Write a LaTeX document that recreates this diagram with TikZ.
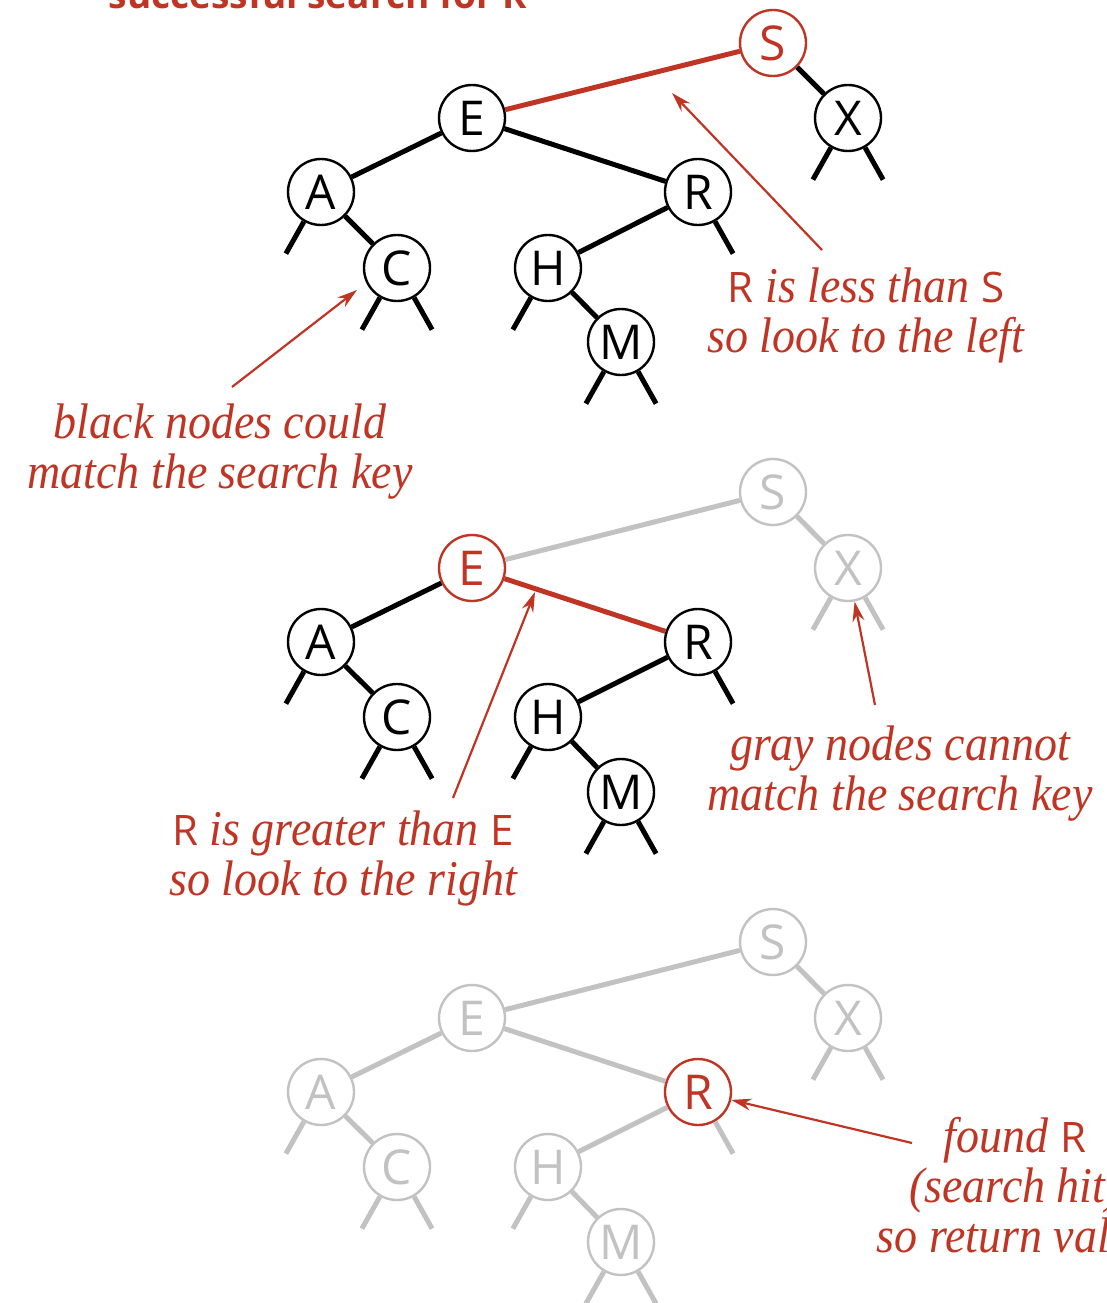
\documentclass[tikz,border=0pt]{standalone}
\usepackage{fontspec}
\setsansfont{Open Sans}
\newfontfamily\notefont[FakeStretch=0.92]{Liberation Serif}
\usepackage{tikz}
\usetikzlibrary{arrows.meta,calc}
\definecolor{bookred}{RGB}{192,52,36}
\definecolor{bookgray}{RGB}{194,194,194}
\newcommand{\ky}[1]{{\upshape\sffamily\fontsize{42}{50}\selectfont #1}}

\begin{document}
\begin{tikzpicture}[x=1pt,y=-1pt,>={Stealth[length=20pt,width=12pt]},
  key/.style={circle,draw,line width=2.4pt,fill=white,minimum size=66pt,inner sep=0pt,
    font=\sffamily\fontsize{48}{48}\selectfont},
  redkey/.style={key,draw=bookred,text=bookred},
  graykey/.style={key,draw=bookgray,text=bookgray},
  link/.style={line width=5pt},
  note/.style={bookred,align=center,font=\notefont\itshape\fontsize{50}{50}\selectfont},
  pointer/.style={->,line width=2.2pt,bookred}]
  \useasboundingbox (0,0) rectangle (1107,1303);
  \node[bookred,anchor=base,font=\sffamily\bfseries\fontsize{37}{37}\selectfont] (title) at (318,9) {successful search for R};

  % first tree: compare with S
  \node[redkey] (s1) at (773,43) {S};
  \node[key] (e1) at (472,118) {E};
  \node[key] (x1) at (848,118) {X};
  \node[key] (a1) at (321,192) {A};
  \node[key] (r1) at (698,192) {R};
  \node[key] (c1) at (397,268) {C};
  \node[key] (h1) at (548,268) {H};
  \node[key] (m1) at (621,342) {M};
  \draw[link,bookred] (s1) -- (e1);
  \draw[link] (s1) -- (x1);
  \draw[link] (e1) -- (a1);
  \draw[link] (e1) -- (r1);
  \draw[link] (a1) -- (c1);
  \draw[link] (r1) -- (h1);
  \draw[link] (h1) -- (m1);
  \foreach \n in {a1,c1,h1,m1,x1} \draw[link] (\n.240) -- ++(-18,32);
  \foreach \n in {c1,r1,m1,x1} \draw[link] (\n.300) -- ++(18,32);

  \node[note] (less) at (866,315) {\ky{R} is less than \ky{S}\\so look to the left};
  \coordinate (lesstail) at (822,250);
  \coordinate (lesstip) at (672,93);
  \draw[pointer] (lesstail) -- (lesstip);
  \node[note] (black) at (220,452) {black nodes could\\match the search key};
  \coordinate (blacktail) at (232,387);
  \coordinate (blacktip) at (357,290);
  \draw[pointer] (blacktail) -- (blacktip);

  % second tree: compare with E
  \node[graykey] (s2) at (773,492) {S};
  \node[redkey] (e2) at (472,568) {E};
  \node[graykey] (x2) at (848,568) {X};
  \node[key] (a2) at (321,642) {A};
  \node[key] (r2) at (698,642) {R};
  \node[key] (c2) at (397,717) {C};
  \node[key] (h2) at (548,717) {H};
  \node[key] (m2) at (621,792) {M};
  \draw[link,bookgray] (s2) -- (e2);
  \draw[link,bookgray] (s2) -- (x2);
  \draw[link] (e2) -- (a2);
  \draw[link,bookred] (e2) -- (r2);
  \draw[link] (a2) -- (c2);
  \draw[link] (r2) -- (h2);
  \draw[link] (h2) -- (m2);
  \foreach \n in {a2,c2,h2,m2} \draw[link] (\n.240) -- ++(-18,32);
  \foreach \n in {c2,r2,m2} \draw[link] (\n.300) -- ++(18,32);
  \draw[link,bookgray] (x2.240) -- ++(-18,32);
  \draw[link,bookgray] (x2.300) -- ++(18,32);

  \node[note] (gray) at (900,774) {gray nodes cannot\\match the search key};
  \coordinate (graytail) at (875,705);
  \draw[pointer] (graytail) -- (x2);
  \node[note] (greater) at (343,858) {\ky{R} is greater than \ky{E}\\so look to the right};
  \coordinate (greatertail) at (453,798);
  \coordinate (greatertip) at (535,592);
  \draw[pointer] (greatertail) -- (greatertip);

  % third tree: search hit at R
  \node[graykey] (s3) at (773,942) {S};
  \node[graykey] (e3) at (472,1018) {E};
  \node[graykey] (x3) at (848,1018) {X};
  \node[graykey] (a3) at (321,1092) {A};
  \node[redkey] (r3) at (698,1092) {R};
  \node[graykey] (c3) at (397,1167) {C};
  \node[graykey] (h3) at (548,1167) {H};
  \node[graykey] (m3) at (621,1242) {M};
  \begin{scope}[bookgray]
    \draw[link] (s3) -- (e3);
    \draw[link] (s3) -- (x3);
    \draw[link] (e3) -- (a3);
    \draw[link] (e3) -- (r3);
    \draw[link] (a3) -- (c3);
    \draw[link] (r3) -- (h3);
    \draw[link] (h3) -- (m3);
    \foreach \n in {a3,c3,h3,m3,x3} \draw[link] (\n.240) -- ++(-18,32);
    \foreach \n in {c3,r3,m3,x3} \draw[link] (\n.300) -- ++(18,32);
  \end{scope}

  \node[note] (found) at (1015,1185) {found \ky{R}\\(search hit)\\so return value};
  \coordinate (foundtail) at (912,1143);
  \draw[pointer] (foundtail) -- (r3);
\end{tikzpicture}
\end{document}
